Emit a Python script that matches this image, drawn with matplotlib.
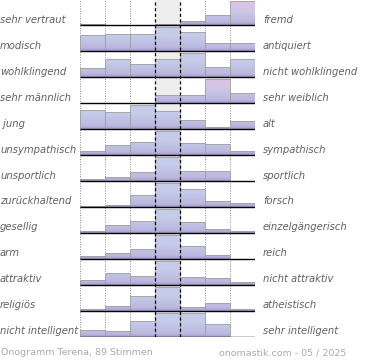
import matplotlib
matplotlib.use("Agg")
import matplotlib.pyplot as plt
import numpy as np
from matplotlib.colors import to_rgb

# Labels left / right of each row
left_labels = ["sehr vertraut", "modisch", "wohlklingend", "sehr männlich", " jung",
               "unsympathisch", "unsportlich", "zurückhaltend", "gesellig", "arm",
               "attraktiv", "religiös", "nicht intelligent"]
right_labels = ["fremd", "antiquiert", "nicht wohlklingend", "sehr weiblich", "alt",
                "sympathisch", "sportlich", "forsch", "einzelgängerisch", "reich",
                "nicht attraktiv", "atheistisch", "sehr intelligent"]

# relative vote share per scale step (7 steps)
votes = [
    [7, 0, 0, 7, 19, 44, 100],
    [69, 73, 73, 100, 80, 35, 35],
    [40, 74, 53, 75, 100, 44, 74],
    [0, 0, 0, 33, 33, 100, 44],
    [78, 73, 100, 74, 40, 8, 32],
    [16, 40, 53, 100, 52, 45, 15],
    [10, 16, 36, 100, 40, 40, 0],
    [5, 7, 52, 100, 74, 23, 15],
    [8, 33, 49, 100, 45, 16, 8],
    [11, 23, 41, 100, 52, 16, 0],
    [20, 49, 38, 100, 33, 29, 14],
    [8, 22, 60, 100, 16, 31, 8],
    [29, 23, 66, 100, 100, 54, 0],
]

title_left = "Onogramm Terena, 89 Stimmen"
title_right = "onomastik.com - 05 / 2025"

W, H = 370, 360
fig = plt.figure(figsize=(W / 100, H / 100), dpi=100)
ax = fig.add_axes([80 / W, (H - 337.3) / H, 175 / W, 337.3 / H])

row_px = 25.95
top_u = 1 - 25.3 / row_px
bot_u = 1 + 12
ax.axis("off")

blue = np.array(to_rgb("#c6cbe9"))
blue_low = np.array(to_rgb("#b9b3dc"))
purple = np.array(to_rgb("#9f93c8"))
pink = np.array(to_rgb("#dcc2e3"))

# background: middle column and column separators
ax.axvspan(3, 4, color="#eeeeee", zorder=0)
for x in [0, 1, 2, 5, 6, 7]:
    ax.axvline(x, color="#888888", ls=(0, (1, 1.5)), lw=0.7, zorder=1)

max_h = 24 / row_px
for i, row in enumerate(votes):
    base = i + 1
    row = np.array(row, dtype=float)
    share = row / row.sum()
    heights = row / row.max() * max_h
    bars = ax.bar(np.arange(7) + 0.5, -heights, width=1, bottom=base,
                  facecolor="none", edgecolor="#a0a0a0", lw=0.6, zorder=3)
    for j, (b, h) in enumerate(zip(bars, heights)):
        if h <= 0:
            continue
        n = 60
        d = np.linspace(h, 0, n)  # height above base, top first
        cols = []
        for dd in d:
            f = dd / max_h
            c = blue_low + (blue - blue_low) * min(1, f * 1.6)
            if share[j] > 0.45:
                p = max(0, (dd / h - 0.3) / 0.7)
                c = c + (pink - c) * p
            if dd < 0.12:
                c = c + (purple - c) * (1 - dd / 0.12) * 0.8
            cols.append(c)
        img = np.array(cols).reshape(n, 1, 3)
        im = ax.imshow(img, extent=(j, j + 1, base, base - h), aspect="auto",
                       origin="upper", zorder=2, interpolation="bilinear")
        im.set_clip_path(b)
    ax.plot([0, 7], [base, base], color="black", lw=1.0, zorder=4,
            solid_capstyle="butt")

for x in [3, 4]:
    ax.axvline(x, color="black", ls=(0, (2.5, 2)), lw=0.9, zorder=5)

ax.set_ylim(bot_u + 0.02, top_u)
ax.set_xlim(0, 7)

for i in range(13):
    y_px = 25.3 + i * row_px - 5.5
    fy = 1 - y_px / H
    fig.text(0 / W, fy, left_labels[i], ha="left", va="center", fontsize=7.2,
             style="italic", color="#606060")
    fig.text(263 / W, fy, right_labels[i], ha="left", va="center", fontsize=7.2,
             style="italic", color="#606060")

fig.text(1 / W, 1 - 352.5 / H, title_left, ha="left", va="center",
         fontsize=6.8, color="#aaaaaa")
fig.text(346 / W, 1 - 352.5 / H, title_right, ha="right", va="center",
         fontsize=6.8, color="#aaaaaa")

fig.savefig("out.png", dpi=100)
